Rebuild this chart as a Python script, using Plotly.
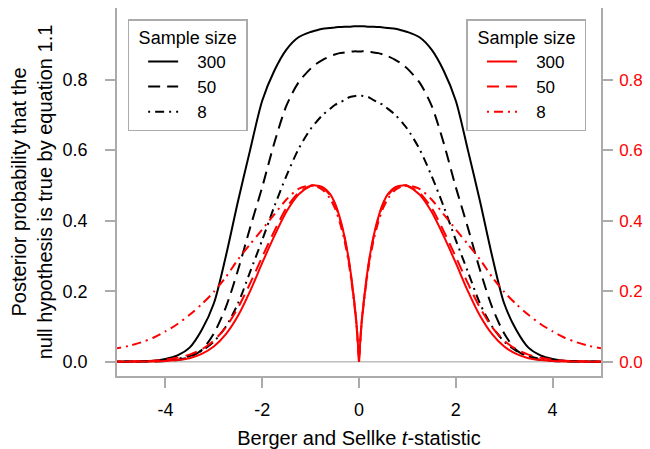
import plotly.graph_objects as go

# t-statistic grid (right half, curves are symmetric about t = 0)
T_HALF = [0, 0.05, 0.1, 0.2, 0.3, 0.4, 0.5, 0.6, 0.75, 0.9, 1.0, 1.25, 1.5, 1.75,
          2.0, 2.25, 2.5, 2.75, 3.0, 3.25, 3.5, 3.75, 4.0, 4.25, 4.5, 4.75, 5.0]

# Black curves: posterior probability of the null, by sample size
BLACK_300 = [0.951, 0.951, 0.951, 0.950, 0.950, 0.949, 0.948, 0.946, 0.944, 0.939, 0.935,
             0.920, 0.885, 0.825, 0.740, 0.600, 0.455, 0.300, 0.165, 0.090, 0.040, 0.018,
             0.008, 0.003, 0.0012, 0.0004, 0.0001]
BLACK_50 = [0.880, 0.880, 0.880, 0.879, 0.877, 0.875, 0.871, 0.866, 0.856, 0.843, 0.831,
            0.792, 0.726, 0.620, 0.495, 0.380, 0.260, 0.155, 0.080, 0.033, 0.013, 0.005,
            0.002, 0.0008, 0.0003, 0.0001, 0.0]
BLACK_8 = [0.754, 0.754, 0.753, 0.750, 0.742, 0.735, 0.728, 0.717, 0.700, 0.677, 0.660,
           0.603, 0.527, 0.440, 0.345, 0.255, 0.165, 0.100, 0.057, 0.031, 0.016, 0.008,
           0.004, 0.002, 0.001, 0.0005, 0.0002]

# Red curves: Berger and Sellke bound, by sample size
RED_300 = [0.0, 0.105, 0.173, 0.280, 0.355, 0.410, 0.450, 0.476, 0.495, 0.500, 0.498,
           0.474, 0.425, 0.356, 0.280, 0.200, 0.130, 0.078, 0.043, 0.022, 0.010, 0.005,
           0.002, 0.0008, 0.0003, 0.0001, 0.0]
RED_50 = [0.0, 0.104, 0.171, 0.277, 0.352, 0.407, 0.447, 0.473, 0.493, 0.500, 0.499,
          0.479, 0.436, 0.370, 0.297, 0.222, 0.153, 0.098, 0.060, 0.035, 0.020, 0.011,
          0.006, 0.003, 0.0017, 0.0009, 0.0005]
RED_8 = [0.0, 0.100, 0.166, 0.270, 0.343, 0.396, 0.436, 0.463, 0.487, 0.498, 0.500,
         0.490, 0.460, 0.418, 0.375, 0.333, 0.290, 0.240, 0.198, 0.163, 0.133, 0.107,
         0.086, 0.068, 0.055, 0.045, 0.038]

SAMPLE_SIZES = ["300", "50", "8"]
X_TICKS = [-4, -2, 0, 2, 4]
X_TICK_TEXT = ["-4", "-2", "0", "2", "4"]
Y_TICKS = [0.0, 0.2, 0.4, 0.6, 0.8]

FONT = "Liberation Sans, Arial, sans-serif"
GRAY = "#ABABAB"
DASHES = ["solid", "12px,7px", "2px,5px,9px,5px"]
PAD = "\u00a0\u00a0\u00a0"
TITLE_PAD = "\u2009\u2009"


def mirror(values):
    """Full curve over [-5, 5] from the right-half values."""
    xs = [-t for t in reversed(T_HALF[1:])] + T_HALF
    ys = list(reversed(values[1:])) + values
    return xs, ys


def build_figure() -> go.Figure:
    fig = go.Figure()

    # Black curves
    for name, vals, dash in zip(SAMPLE_SIZES, [BLACK_300, BLACK_50, BLACK_8], DASHES):
        xs, ys = mirror(vals)
        fig.add_trace(go.Scatter(
            x=xs, y=ys, mode='lines', name=PAD + name,
            line=dict(color='black', width=2, dash=dash, shape='spline', smoothing=0.8),
            legend='legend'
        ))

    # Red curves, each branch drawn separately to keep the cusp at t = 0
    for name, vals, dash in zip(SAMPLE_SIZES, [RED_300, RED_50, RED_8], DASHES):
        for side in (1, -1):
            fig.add_trace(go.Scatter(
                x=[side * t for t in T_HALF], y=vals, mode='lines',
                name=PAD + name, legendgroup='red' + name,
                showlegend=(side == 1),
                line=dict(color='#FF0000', width=2, dash=dash, shape='spline', smoothing=0.8),
                yaxis='y2', legend='legend2'
            ))

    fig.add_hline(y=0, line_color="#BEBEBE", line_width=1.5, layer='below')

    axis_common = dict(
        showgrid=False, zeroline=False, showline=True, linecolor=GRAY, linewidth=1.5,
        ticks='outside', ticklen=10, tickwidth=1.5, tickcolor=GRAY, automargin=False,
    )
    y_range = [-0.0405, 1.003]

    legend_common = dict(
        bgcolor='white', bordercolor=GRAY, borderwidth=1.5,
        font=dict(family=FONT, size=17, color='black'),
        title=dict(text=TITLE_PAD + 'Sample size' + TITLE_PAD, side='top center',
                   font=dict(family=FONT, size=18, color='black')),
        itemwidth=30, tracegroupgap=0, indentation=14, yanchor='top', y=0.970,
    )

    # the page body adds an 8px margin, so the figure is 8px smaller than the window
    fig.update_layout(
        width=642, height=441,
        margin=dict(l=109, r=49, t=0, b=73),
        plot_bgcolor='white', paper_bgcolor='white',
        font=dict(family=FONT, size=18, color='black'),
        xaxis=dict(
            range=[-5, 5], tickvals=X_TICKS, ticktext=X_TICK_TEXT, mirror=True,
            ticklabelstandoff=7,
            title=dict(text='Berger and Sellke <i>t</i>-statistic',
                       font=dict(family=FONT, size=20), standoff=21),
            **axis_common
        ),
        yaxis=dict(
            range=y_range, tickvals=Y_TICKS, tickformat='.1f', mirror=True,
            ticklabelstandoff=14,
            title=dict(text='Posterior probability that the<br>'
                            'null hypothesis is true by equation 1.1',
                       font=dict(family=FONT, size=20), standoff=12),
            **axis_common
        ),
        yaxis2=dict(
            range=y_range, tickvals=Y_TICKS, tickformat='.1f', overlaying='y',
            side='right', tickfont=dict(family=FONT, size=17, color='#FF0000'),
            ticklabelstandoff=3,
            **axis_common
        ),
        legend=dict(x=0.022, xanchor='left', **legend_common),
        legend2=dict(x=0.970, xanchor='right', **legend_common),
    )

    return fig


fig = build_figure()
fig.write_html("out.html")
